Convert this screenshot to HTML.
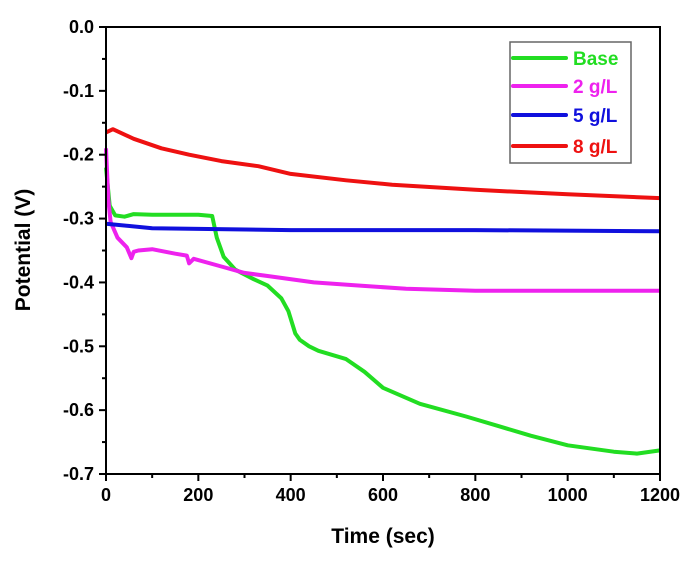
<!DOCTYPE html>
<html><head><meta charset="utf-8"><style>body{margin:0;background:#fff}svg{display:block;font-family:"Liberation Sans",Arial,sans-serif}</style></head>
<body>
<svg id="chart" width="700" height="578"></svg>
<script>
const xTicks=[0,200,400,600,800,1000,1200];
const yTicks=[0,-0.1,-0.2,-0.3,-0.4,-0.5,-0.6,-0.7];
const yTickLabels=["0.0","-0.1","-0.2","-0.3","-0.4","-0.5","-0.6","-0.7"];
const seriesNames=["Base","2 g/L","5 g/L","8 g/L"];
const seriesColors=["#22dd22","#ee22ee","#1010dd","#ee1111"];
const baseT=[0,8,20,40,60,100,150,200,230,240,255,280,320,350,380,395,410,420,440,460,520,560,600,680,780,850,920,1000,1100,1150,1200];
const baseV=[-0.22,-0.28,-0.295,-0.297,-0.293,-0.294,-0.294,-0.294,-0.296,-0.33,-0.36,-0.38,-0.395,-0.405,-0.425,-0.445,-0.48,-0.49,-0.5,-0.507,-0.52,-0.54,-0.565,-0.59,-0.61,-0.625,-0.64,-0.655,-0.665,-0.668,-0.663];
const p2T=[0,5,10,25,45,55,60,70,100,150,175,180,190,250,300,350,450,550,650,800,1000,1200];
const p2V=[-0.19,-0.27,-0.305,-0.33,-0.345,-0.362,-0.352,-0.35,-0.348,-0.355,-0.358,-0.37,-0.363,-0.375,-0.385,-0.39,-0.4,-0.405,-0.41,-0.413,-0.413,-0.413];
const p5T=[0,100,400,800,1200];
const p5V=[-0.308,-0.315,-0.318,-0.318,-0.32];
const p8T=[0,15,60,120,180,250,330,400,520,620,800,1000,1200];
const p8V=[-0.165,-0.16,-0.175,-0.19,-0.2,-0.21,-0.218,-0.23,-0.24,-0.247,-0.255,-0.262,-0.268];
const allT=[baseT,p2T,p5T,p8T], allV=[baseV,p2V,p5V,p8V];

const X0=106,X1=660,Y0=27,Y1=474;
const xs=t=>X0+(t-0)/(1200)*(X1-X0);
const ys=v=>Y0+(0-v)/0.7*(Y1-Y0);
const svg=document.getElementById('chart');
const NS='http://www.w3.org/2000/svg';
function mk(tag,attrs,parent){const e=document.createElementNS(NS,tag);for(const k in attrs)e.setAttribute(k,attrs[k]);(parent||svg).appendChild(e);return e;}

allT.forEach((T,i)=>{
  const d=T.map((t,j)=>(j?'L':'M')+xs(t).toFixed(1)+' '+ys(allV[i][j]).toFixed(1)).join(' ');
  const p=mk('path',{d:d,fill:'none',stroke:seriesColors[i],'stroke-width':4,'stroke-linejoin':'round'});
  
  
});
const fr=mk('rect',{x:X0,y:Y0,width:X1-X0,height:Y1-Y0,fill:'none',stroke:'#000','stroke-width':2});


xTicks.forEach((t,i)=>{
  mk('line',{x1:xs(t),x2:xs(t),y1:Y1,y2:Y1+7,stroke:'#000','stroke-width':2});
  if(i<xTicks.length-1){const m=(t+xTicks[i+1])/2;mk('line',{x1:xs(m),x2:xs(m),y1:Y1,y2:Y1+4,stroke:'#000','stroke-width':2});}
  const tx=mk('text',{x:xs(t),y:Y1+27,'text-anchor':'middle','font-size':18,'font-weight':'bold'});
  tx.textContent=t;
  
  
});
yTicks.forEach((v,i)=>{
  mk('line',{x1:X0-7,x2:X0,y1:ys(v),y2:ys(v),stroke:'#000','stroke-width':2});
  if(i<yTicks.length-1){const m=(v+yTicks[i+1])/2;mk('line',{x1:X0-4,x2:X0,y1:ys(m),y2:ys(m),stroke:'#000','stroke-width':2});}
  const tx=mk('text',{x:X0-12,y:ys(v)+6,'text-anchor':'end','font-size':18,'font-weight':'bold'});
  tx.textContent=yTickLabels[i];
  
  
});
const xt=mk('text',{x:383,y:543,'text-anchor':'middle','font-size':21,'font-weight':'bold'});
xt.textContent='Time (sec)';


const yt=mk('text',{x:0,y:0,'text-anchor':'middle','font-size':21,'font-weight':'bold',transform:'translate(30,250) rotate(-90)'});
yt.textContent='Potential (V)';


const lg=mk('g',{});


mk('rect',{x:510,y:42,width:121,height:121,fill:'#fff',stroke:'#666','stroke-width':1.5},lg);
const ly=[58,86,115,146];
seriesNames.forEach((n,i)=>{
  const g=mk('g',{},lg);
  
  
  mk('line',{x1:513,x2:566,y1:ly[i],y2:ly[i],stroke:seriesColors[i],'stroke-width':4,'stroke-linecap':'round'},g);
  const t=mk('text',{x:573,y:ly[i]+7,'font-size':19,'font-weight':'bold',fill:seriesColors[i]},g);
  t.textContent=n;
});
</script>
</body></html>
